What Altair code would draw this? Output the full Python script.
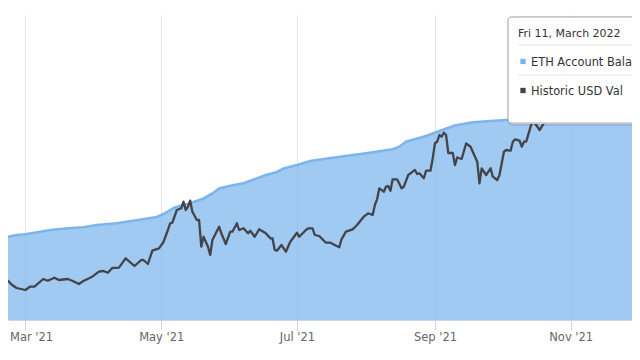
import altair as alt
import pandas as pd

# ETH account balance (ETH)
bal_dates = ["2021-02-18", "2021-02-25", "2021-03-01", "2021-03-05", "2021-03-12", "2021-03-20",
             "2021-03-27", "2021-04-02", "2021-04-11", "2021-04-22", "2021-04-29", "2021-05-02",
             "2021-05-07", "2021-05-14", "2021-05-20", "2021-05-24", "2021-05-27", "2021-06-01",
             "2021-06-07", "2021-06-11", "2021-06-17", "2021-06-22", "2021-06-25", "2021-07-01",
             "2021-07-07", "2021-07-17", "2021-08-01", "2021-08-13", "2021-08-16", "2021-08-19",
             "2021-08-28", "2021-09-03", "2021-09-10", "2021-09-18", "2021-09-26", "2021-10-03",
             "2021-10-18", "2021-11-14", "2021-12-02"]
bal_values = [8.17, 8.50, 8.57, 8.73, 9.00, 9.17,
              9.27, 9.50, 9.67, 10.05, 10.30, 10.60,
              11.25, 11.67, 12.15, 12.65, 13.15, 13.43,
              13.67, 14.00, 14.50, 14.80, 15.15, 15.50,
              15.90, 16.23, 16.67, 17.07, 17.33, 17.83,
              18.40, 18.90, 19.45, 19.77, 19.90, 20.00,
              20.10, 20.20, 20.30]

# Historic USD value (USD)
usd_dates = ["2021-02-18", "2021-02-21", "2021-02-23", "2021-02-25", "2021-02-27", "2021-03-01",
             "2021-03-03", "2021-03-05", "2021-03-09", "2021-03-11", "2021-03-14", "2021-03-16",
             "2021-03-20", "2021-03-22", "2021-03-25", "2021-03-27", "2021-03-31", "2021-04-03",
             "2021-04-05", "2021-04-07", "2021-04-09", "2021-04-12", "2021-04-15", "2021-04-19",
             "2021-04-22", "2021-04-23", "2021-04-25", "2021-04-27", "2021-04-30", "2021-05-02",
             "2021-05-04", "2021-05-05", "2021-05-06", "2021-05-08", "2021-05-10", "2021-05-11",
             "2021-05-12", "2021-05-13", "2021-05-14", "2021-05-15", "2021-05-17", "2021-05-18",
             "2021-05-19", "2021-05-20", "2021-05-22", "2021-05-23", "2021-05-24", "2021-05-27",
             "2021-05-28", "2021-05-30", "2021-06-01", "2021-06-02", "2021-06-04", "2021-06-05",
             "2021-06-07", "2021-06-09", "2021-06-10", "2021-06-12", "2021-06-14", "2021-06-17",
             "2021-06-19", "2021-06-20", "2021-06-21", "2021-06-22", "2021-06-24", "2021-06-26",
             "2021-06-28", "2021-07-01", "2021-07-02", "2021-07-05", "2021-07-06", "2021-07-08",
             "2021-07-09", "2021-07-11", "2021-07-14", "2021-07-16", "2021-07-18", "2021-07-20",
             "2021-07-21", "2021-07-23", "2021-07-26", "2021-07-28", "2021-07-31", "2021-08-02",
             "2021-08-04", "2021-08-05", "2021-08-06", "2021-08-07", "2021-08-09", "2021-08-10",
             "2021-08-11", "2021-08-12", "2021-08-13", "2021-08-15", "2021-08-17", "2021-08-18",
             "2021-08-20", "2021-08-22", "2021-08-23", "2021-08-24", "2021-08-25", "2021-08-27",
             "2021-08-28", "2021-08-30", "2021-08-31", "2021-09-01", "2021-09-02", "2021-09-03",
             "2021-09-04", "2021-09-05", "2021-09-06", "2021-09-07", "2021-09-09", "2021-09-10",
             "2021-09-11", "2021-09-13", "2021-09-15", "2021-09-17", "2021-09-18", "2021-09-20",
             "2021-09-21", "2021-09-22", "2021-09-24", "2021-09-26", "2021-09-27", "2021-09-29",
             "2021-09-30", "2021-10-02", "2021-10-03", "2021-10-05", "2021-10-06", "2021-10-07",
             "2021-10-09", "2021-10-10", "2021-10-11", "2021-10-12", "2021-10-14", "2021-10-15",
             "2021-10-18", "2021-10-19", "2021-10-22", "2021-10-31", "2021-11-14", "2021-12-02"]
usd_values = [19150, 19650, 17500, 16000, 15500, 15000,
              16650, 16650, 20500, 19650, 21150, 20000,
              20500, 19650, 18000, 19500, 21650, 24150,
              24500, 23650, 26000, 26150, 30850, 27000,
              30000, 30000, 28000, 34650, 35850, 39000,
              45000, 48350, 48650, 55000, 55850, 59150,
              55000, 56650, 59650, 54150, 50000, 50000,
              36650, 41650, 36650, 32500, 40000, 46650,
              43350, 38000, 44150, 44150, 48350, 45000,
              45850, 43350, 44650, 41650, 45350, 43350,
              40850, 40850, 35000, 34650, 37500, 34150,
              39150, 43650, 41650, 45000, 45850, 45850,
              42500, 42000, 38650, 38650, 37500, 36350,
              40350, 44150, 45350, 47500, 51650, 53350,
              52500, 57500, 60350, 65850, 64150, 66650,
              67000, 64650, 70350, 70350, 65850, 66650,
              72500, 74150, 75000, 73000, 73350, 70850,
              74650, 74650, 80850, 88350, 89150, 92500,
              91650, 93650, 92500, 83500, 83500, 77500,
              81250, 80500, 88250, 86650, 84150, 79150,
              68350, 75850, 72500, 75850, 71650, 70000,
              72500, 84150, 85000, 84650, 89150, 90350,
              89650, 86650, 89150, 89150, 96650, 100000,
              95000, 96650, 102500, 107500, 110000, 107500]

tick_dates = [(2021, 3), (2021, 5), (2021, 7), (2021, 9), (2021, 11)]

# tooltip texts, as far as they are visible in the reference
tooltip_header = "Fri 11, March 2022"
series_labels = ["ETH Account Bala", "Historic USD Val"]
series_colors = ["#7cb5ec", "#434348"]

bal_df = pd.DataFrame({"date": bal_dates, "balance": bal_values})
usd_df = pd.DataFrame({"date": usd_dates, "usd": usd_values})
one = pd.DataFrame({"k": [0]})

FONT = "DejaVu Sans"

x_scale = alt.Scale(
    type="utc",
    domain=[alt.DateTime(year=2021, month=2, date=21, hours=3, minutes=16, utc=True),
            alt.DateTime(year=2021, month=11, date=28, hours=13, minutes=12, utc=True)],
)
x_axis = alt.Axis(
    values=[alt.DateTime(year=y, month=m, date=1, utc=True) for y, m in tick_dates],
    labelExpr="utcFormat(datum.value, \"%b '%y\")",
    title=None,
    grid=True, gridColor="#e6e6e6", gridWidth=1,
    domainColor="#ccd6eb", domainWidth=1,
    tickColor="#ccd6eb", tickSize=10, tickWidth=1,
    labelColor="#666666", labelFont=FONT, labelFontSize=11.5,
    labelPadding=1, labelFlush=20, labelFlushOffset=16, labelOverlap=False,
)
x_enc = alt.X("date:T", scale=x_scale, axis=x_axis)

area = alt.Chart(bal_df).mark_area(
    clip=True, color="#7cb5ec", fillOpacity=0.72, interpolate="linear"
).encode(
    x=x_enc,
    y=alt.Y("balance:Q", scale=alt.Scale(domain=[0, 30.5]), axis=None),
)
area_line = alt.Chart(bal_df).mark_line(
    clip=True, color="#7cb5ec", strokeWidth=2.6
).encode(
    x=x_enc,
    y=alt.Y("balance:Q", scale=alt.Scale(domain=[0, 30.5]), axis=None),
)
usd_line = alt.Chart(usd_df).mark_line(
    clip=True, color="#434348", strokeWidth=2.3, strokeJoin="round"
).encode(
    x=x_enc,
    y=alt.Y("usd:Q", scale=alt.Scale(domain=[0, 152500]), axis=None),
)

# tooltip box (static annotation)
shadow = alt.Chart(one).mark_rect(
    fill="white", stroke="black", strokeOpacity=0.08, strokeWidth=4, cornerRadius=4
).encode(x=alt.value(501), x2=alt.value(720), y=alt.value(3), y2=alt.value(109))
box = alt.Chart(one).mark_rect(
    fill="white", stroke="#a8a8a8", strokeWidth=1, cornerRadius=3
).encode(x=alt.value(500), x2=alt.value(720), y=alt.value(2), y2=alt.value(108))
sep1 = alt.Chart(one).mark_rule(color="#e6e6e6", strokeWidth=1).encode(
    x=alt.value(510), x2=alt.value(720), y=alt.value(30))
sep2 = alt.Chart(one).mark_rule(color="#e6e6e6", strokeWidth=1).encode(
    x=alt.value(510), x2=alt.value(720), y=alt.value(60))
header = alt.Chart(one).mark_text(
    align="left", baseline="alphabetic", font=FONT, fontSize=11, color="#333333"
).encode(x=alt.value(510), y=alt.value(22), text=alt.value(tooltip_header))
m1 = alt.Chart(one).mark_point(shape="square", filled=True, size=28, opacity=1,
                               color=series_colors[0]).encode(x=alt.value(515), y=alt.value(46.5))
m2 = alt.Chart(one).mark_point(shape="square", filled=True, size=28, opacity=1,
                               color=series_colors[1]).encode(x=alt.value(515), y=alt.value(75.5))
t1 = alt.Chart(one).mark_text(
    align="left", baseline="alphabetic", font=FONT, fontSize=11.4, color="#333333"
).encode(x=alt.value(523), y=alt.value(51), text=alt.value(series_labels[0]))
t2 = alt.Chart(one).mark_text(
    align="left", baseline="alphabetic", font=FONT, fontSize=11.4, color="#333333"
).encode(x=alt.value(523), y=alt.value(80), text=alt.value(series_labels[1]))

chart = alt.layer(
    area, area_line, usd_line, shadow, box, sep1, sep2, header, m1, m2, t1, t2
).resolve_scale(y="independent").properties(
    width=624, height=305,
    autosize=alt.AutoSizeParams(type="none"),
    padding={"left": 0, "top": 7, "right": 0, "bottom": 33},
    background="white",
).configure_view(stroke=None)

chart.save("out.html", embed_options={"renderer": "svg", "actions": False})
